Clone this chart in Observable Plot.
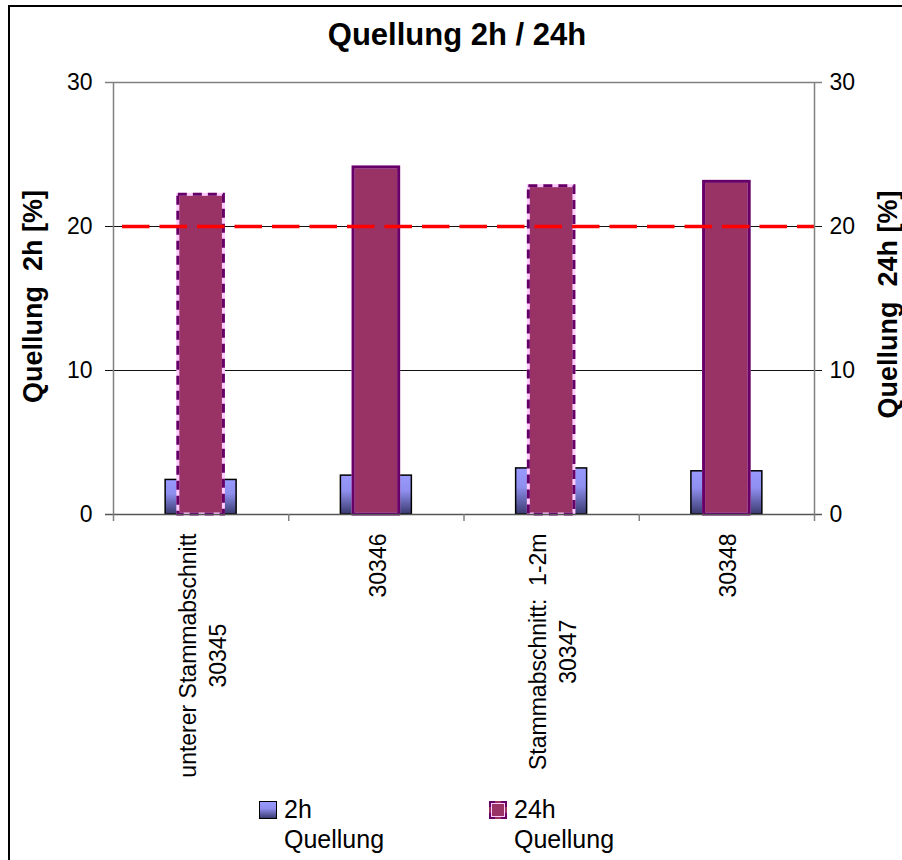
<!DOCTYPE html>
<html>
<head>
<meta charset="utf-8">
<script src="https://cdn.jsdelivr.net/npm/d3@7"></script>
<script src="https://cdn.jsdelivr.net/npm/@observablehq/plot@0.6"></script>
<style>
  html, body { margin: 0; padding: 0; background: #fff; overflow: hidden; width: 902px; height: 860px; }
  #wrap { position: relative; width: 902px; height: 860px; overflow: hidden;
          font-family: "Liberation Sans", Arial, sans-serif; }
  #bl { position: absolute; left: 8px; top: 5px; width: 2px; height: 900px; background: #000; }
  #bt { position: absolute; left: 8px; top: 5px; width: 950px; height: 2px; background: #000; }
  #title { position: absolute; left: 0; width: 914px; top: 19px; text-align: center;
           font-weight: bold; font-size: 31px; line-height: 31px; }
  #chart { position: absolute; left: 0; top: 0; }
  #chart svg text { white-space: pre; }
  .leg { position: absolute; font-size: 25px; line-height: 30px; color: #000; }
  .sw { position: absolute; width: 18px; height: 18px; box-sizing: border-box; }
</style>
</head>
<body>
<div id="wrap">
  <div id="bl"></div>
  <div id="bt"></div>
  <div id="chart"></div>
  <div id="title">Quellung 2h / 24h</div>
  <div class="sw" id="sw2" style="left:259px; top:801px; border:1.5px solid #000; background:linear-gradient(#9999ff, #8f8fef 40%, #3a3a70);"></div>
  <div class="leg" style="left:284px; top:794px;">2h<br>Quellung</div>
  <div class="sw" id="sw24" style="left:489px; top:801px; border:3px dashed #660066; outline: 1px solid #ffccff; outline-offset:-3px; background:#993366;"></div>
  <div class="leg" style="left:514px; top:794px;">24h<br>Quellung</div>
</div>
<script>
// ---- data ----
const categories = ["unterer Stammabschnitt\n30345", "30346", "Stammabschnitt:  1-2m\n30347", "30348"];
const quellung2h = [2.4, 2.7, 3.2, 3.0];
const quellung24h = [22.2, 24.1, 22.8, 23.1];
const yTicks = [0, 10, 20, 30];
const referenceLine = 20;
const yLabelLeft = "Quellung  2h [%]";
const yLabelRight = "Quellung  24h [%]";

// ---- build ----
const rows = categories.map((label, i) => ({ i, pos: i + 0.5, label, q2: quellung2h[i], q24: quellung24h[i] }));
const boundaries = d3.range(categories.length + 1);
const w2 = 0.405, w24 = 0.26;
const fontFamily = '"Liberation Sans", Arial, sans-serif';
const catFont = 23;

const ctx = document.createElement("canvas").getContext("2d");
ctx.font = `${catFont}px ${fontFamily}`;
const labelMarks = rows.map(r => {
  const maxW = d3.max(r.label.split("\n"), s => ctx.measureText(s).width);
  return Plot.text([r], {x: "pos", text: "label", frameAnchor: "bottom", rotate: -90,
    textAnchor: "middle", lineAnchor: "middle", lineHeight: 1.3, fontSize: catFont, dy: 19 + maxW / 2});
});

const plot = Plot.plot({
  width: 902, height: 860,
  marginLeft: 113, marginRight: 88, marginTop: 82, marginBottom: 346,
  style: {fontFamily, fontSize: "23px", background: "transparent", overflow: "visible"},
  x: {type: "linear", domain: [0, categories.length], axis: null},
  y: {domain: [0, 30], axis: null},
  marks: [
    Plot.ruleY(yTicks.filter(v => v === 30), {stroke: "#808080", strokeWidth: 1.5, insetLeft: -8, insetRight: -8}),
    Plot.ruleY(yTicks.filter(v => v !== 30 && v !== 0), {stroke: "#111", strokeWidth: 1, insetLeft: -8, insetRight: -8}),
    Plot.rectY(rows, {x1: d => d.pos - w2 / 2, x2: d => d.pos + w2 / 2, y1: 0, y2: "q2",
      fill: "url(#grad2h)", stroke: "#000", strokeWidth: 1.5}),
    Plot.rectY(rows, {x1: d => d.pos - w24 / 2, x2: d => d.pos + w24 / 2, y1: 0, y2: "q24",
      fill: "#993366", stroke: "#ffccff", strokeWidth: 3}),
    Plot.rectY(rows.filter(d => d.i % 2 === 0), {x1: d => d.pos - w24 / 2, x2: d => d.pos + w24 / 2, y1: 0, y2: "q24",
      fill: "none", stroke: "#660066", strokeWidth: 3, strokeDasharray: "9,6"}),
    Plot.rectY(rows.filter(d => d.i % 2 === 1), {x1: d => d.pos - w24 / 2, x2: d => d.pos + w24 / 2, y1: 0, y2: "q24",
      fill: "none", stroke: "#660066", strokeWidth: 3}),
    Plot.ruleY([referenceLine], {stroke: "#ff0000", strokeWidth: 3.5, strokeDasharray: "27.5,10", strokeDashoffset: 28.5}),
    Plot.ruleY([0], {stroke: "#555", strokeWidth: 1.5, insetLeft: -8, insetRight: -8}),
    Plot.ruleX([0, categories.length], {stroke: "#808080", strokeWidth: 1.5, insetBottom: -7}),
    Plot.ruleX(boundaries.slice(1, -1), {y1: 0, y2: 0, stroke: "#808080", strokeWidth: 1.5, insetBottom: -7}),
    Plot.axisY(yTicks, {anchor: "left", tickSize: 0, tickPadding: 21, fontSize: 23}),
    Plot.axisY(yTicks, {anchor: "right", tickSize: 0, tickPadding: 15, fontSize: 23}),
    Plot.text([yLabelLeft], {frameAnchor: "left", dx: -80, dy: -2, rotate: -90, textAnchor: "middle", lineAnchor: "middle", fontWeight: "bold", fontSize: 27}),
    Plot.text([yLabelRight], {frameAnchor: "right", dx: 74, dy: 6, rotate: -90, textAnchor: "middle", lineAnchor: "middle", fontWeight: "bold", fontSize: 27}),
    ...labelMarks
  ]
});

// gradient for the 2h bars
const ns = "http://www.w3.org/2000/svg";
const defs = document.createElementNS(ns, "defs");
const grad = document.createElementNS(ns, "linearGradient");
grad.setAttribute("id", "grad2h");
grad.setAttribute("x1", "0"); grad.setAttribute("y1", "0");
grad.setAttribute("x2", "0"); grad.setAttribute("y2", "1");
[["0", "#9999ff"], ["0.4", "#8f8fef"], ["1", "#3a3a70"]].forEach(([o, c]) => {
  const s = document.createElementNS(ns, "stop");
  s.setAttribute("offset", o); s.setAttribute("stop-color", c);
  grad.appendChild(s);
});
defs.appendChild(grad);
plot.insertBefore(defs, plot.firstChild);
document.getElementById("chart").appendChild(plot);
</script>
</body>
</html>
